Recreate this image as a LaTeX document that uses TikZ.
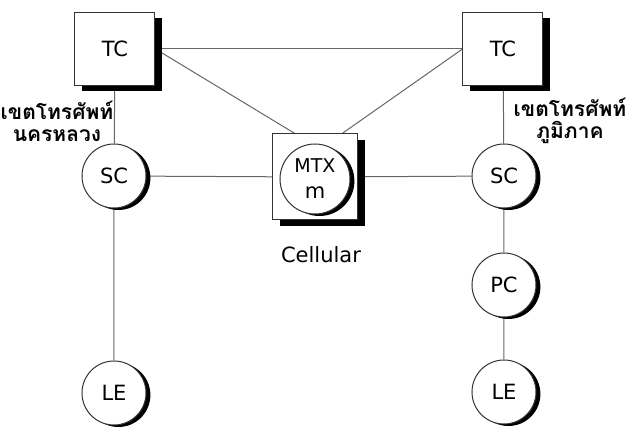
\documentclass[tikz,border=0pt]{standalone}
\usepackage{fontspec}
\setmainfont{DejaVu Sans}
\newfontfamily\thaifont[Script=Thai]{Loma}
\usetikzlibrary{shadows,calc,backgrounds}

\tikzset{
  exch/.style={draw=black!80, fill=white, line width=0.5pt, minimum width=40pt,
    minimum height=36.5pt, inner sep=0pt,
    drop shadow={shadow xshift=3.5pt, shadow yshift=-3pt, opacity=1, fill=black}},
  office/.style={circle, draw=black!80, fill=white, line width=0.5pt,
    minimum size=32pt, inner sep=0pt,
    drop shadow={shadow xshift=2.2pt, shadow yshift=-1pt, opacity=1, fill=black}},
  link/.style={draw=black!60, line width=0.5pt},
  zone/.style={font=\thaifont\bfseries\fontsize{10.5}{11}\selectfont, align=center}
}

\begin{document}
\begin{tikzpicture}[x=0.5pt, y=-0.5pt, font=\fontsize{10.5}{12}\selectfont]
\useasboundingbox (0,0) rectangle (629,427);

% exchanges
\node[exch] (tcl) at (115,49) {TC};
\node[exch] (tcr) at (503,49) {TC};
\node[exch, minimum width=42.5pt, minimum height=43pt] (mtx) at (315.5,177) {};
\node[office, minimum size=35pt, align=center, font=\fontsize{9.5}{10}\selectfont]
  (mtxc) at (315,179) {MTX\\[3pt]{\fontsize{10.5}{12}\selectfont m}};
\node (cell) at (321,255) {Cellular};

% offices
\node[office] (scl) at (114,176) {SC};
\node[office] (lel) at (114,393) {LE};
\node[office] (scr) at (504,176) {SC};
\node[office] (pcr) at (504,285) {PC};
\node[office] (ler) at (504,392) {LE};

% zones
\node[zone] (zl) at (57,121) {เขตโทรศัพท์\\นครหลวง};
\node[zone] (zr) at (570,121) {เขตโทรศัพท์\\ภูมิภาค};

\begin{scope}[on background layer]
\draw[link] (tcl.east) -- (tcr.west);
\draw[link] (tcl.east) -- ($(mtx.north west)!0.26!(mtx.north east)$);
\draw[link] (tcr.west) -- ($(mtx.north west)!0.81!(mtx.north east)$);
\draw[link] (tcl) -- (scl) -- (lel);
\draw[link] (scl) -- (mtx) -- (scr);
\draw[link] (tcr) -- (scr) -- (pcr) -- (ler);
\end{scope}

\end{tikzpicture}
\end{document}
